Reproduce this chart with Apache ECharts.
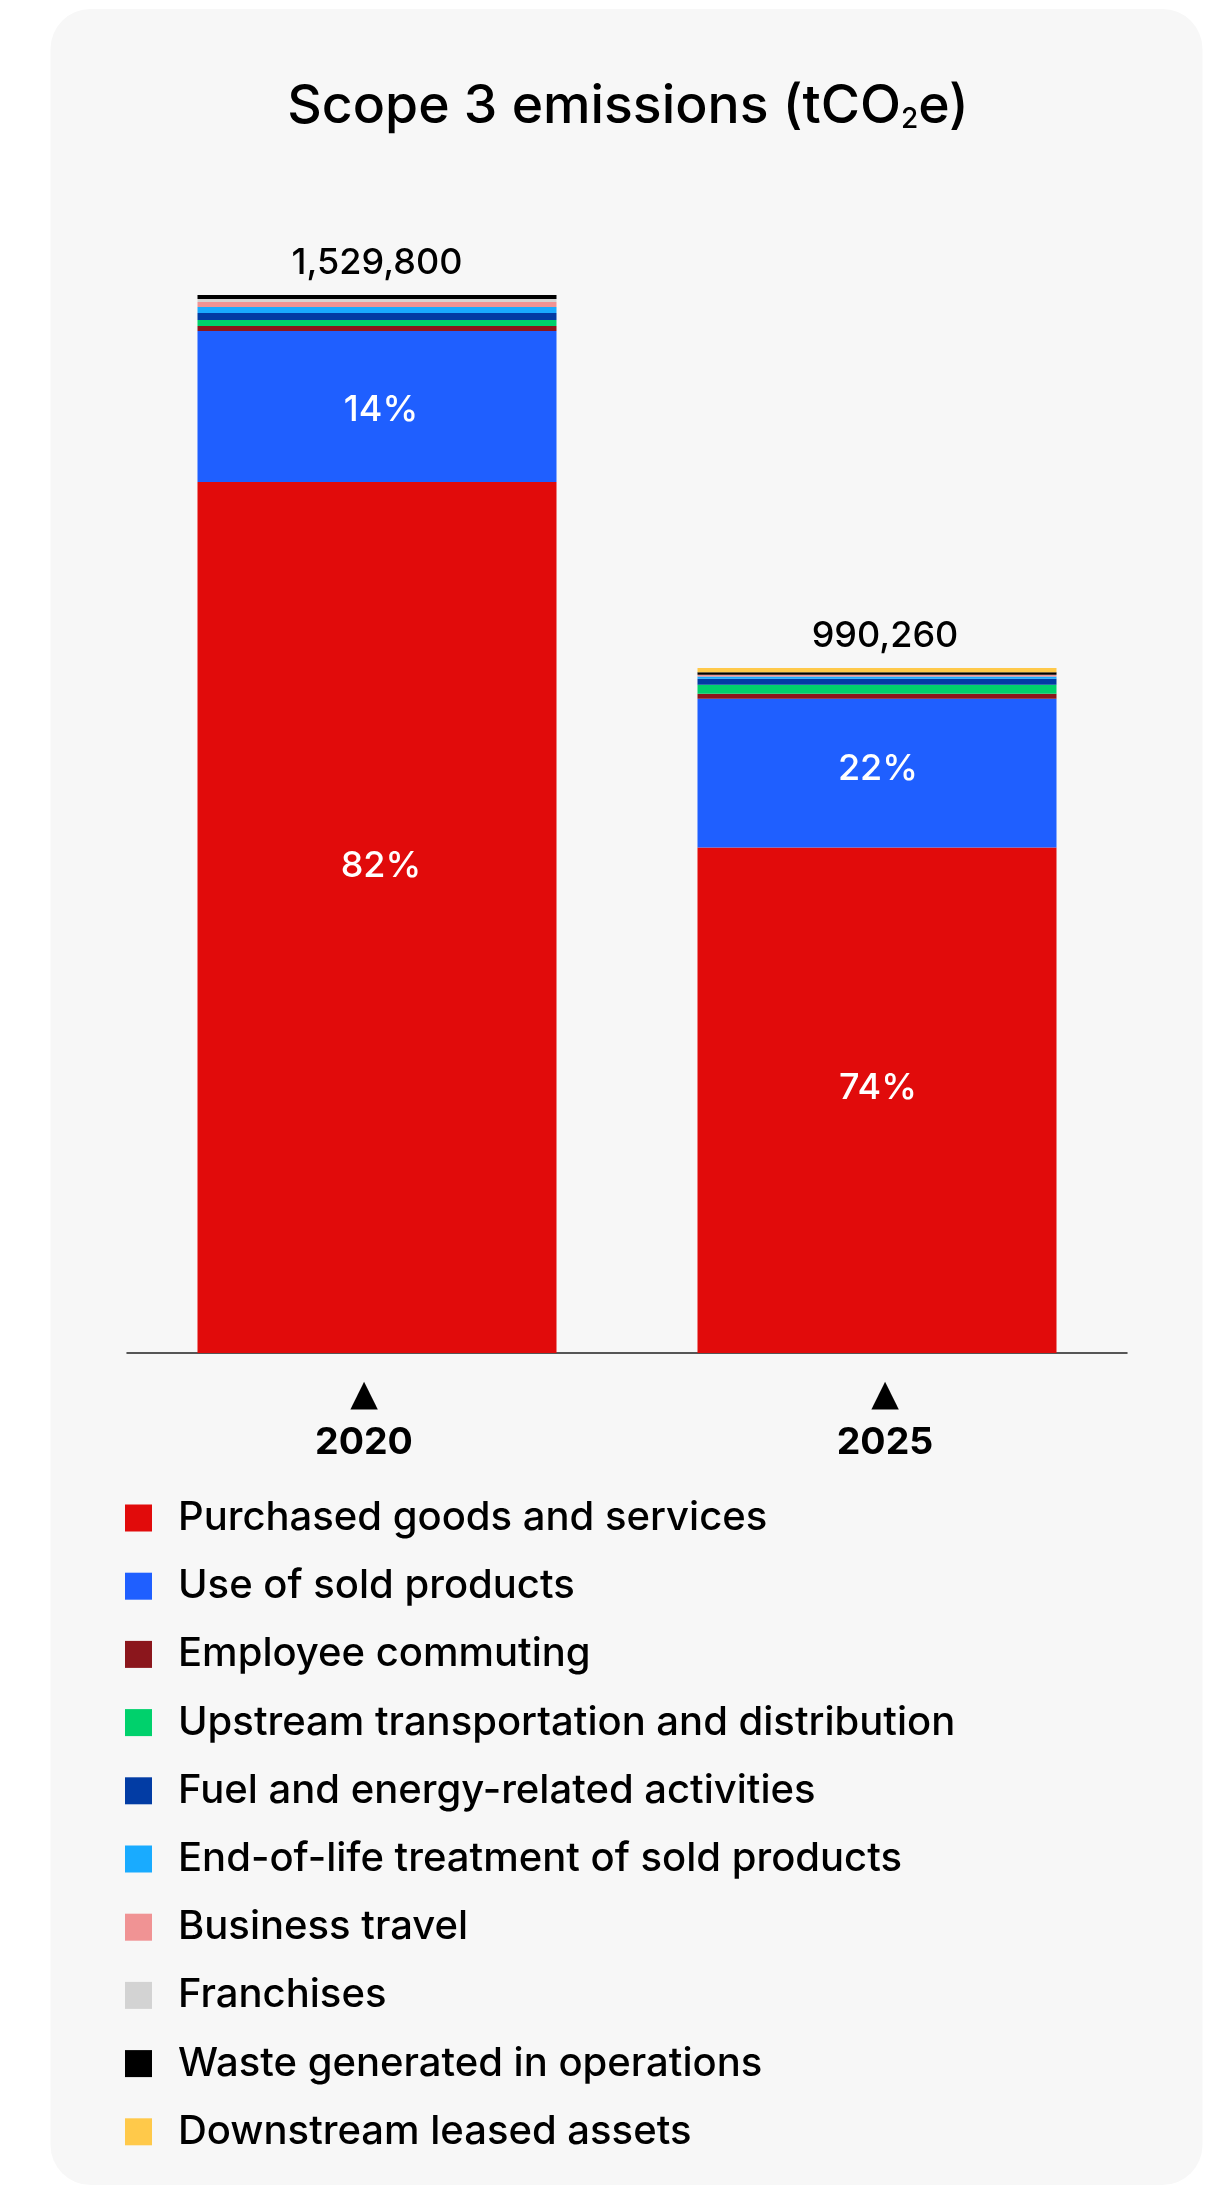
<!DOCTYPE html>
<html>
<head>
<meta charset="utf-8">
<title>Scope 3 emissions</title>
<script src="https://cdn.jsdelivr.net/npm/echarts@6/dist/echarts.min.js"></script>
<style>
  html, body { margin: 0; padding: 0; background: #ffffff; }
  #chart { width: 1208px; height: 2187px; }
</style>
</head>
<body>
<div id="chart"></div>
<script>
// Reporting years
const years = ['2020', '2025'];

// Scope 3 categories, bottom of the stack first
const categories = [
  'Purchased goods and services',
  'Use of sold products',
  'Employee commuting',
  'Upstream transportation and distribution',
  'Fuel and energy-related activities',
  'End-of-life treatment of sold products',
  'Business travel',
  'Franchises',
  'Waste generated in operations',
  'Downstream leased assets'
];

// Emissions per category (tCO2e), one value per year
const purchasedGoods   = [1259300, 731000];
const useOfSold        = [218500, 215000];
const employeeCommute  = [7200, 7180];
const upstreamTransport = [8700, 13160];
const fuelEnergy       = [10100, 8370];
const endOfLife        = [8700, 3590];
const businessTravel   = [7200, 2390];
const franchises       = [4300, 0];
const wasteGenerated   = [5800, 3590];
const downstreamLeased = [0, 5980];

const seriesValues = [
  purchasedGoods, useOfSold, employeeCommute, upstreamTransport, fuelEnergy,
  endOfLife, businessTravel, franchises, wasteGenerated, downstreamLeased
];

const palette = [
  '#e10b0b', '#1f5fff', '#8b161c', '#00d16c', '#023ca4',
  '#19abff', '#f09394', '#d3d3d3', '#000000', '#ffc94a'
];

const totals = years.map((_, i) => seriesValues.reduce((s, arr) => s + arr[i], 0));
const fmt = v => v.toLocaleString('en-US');

const FONT = 'Inter';

// Only the two largest categories carry a share label
const pctLabelOffsets = {
  0: [[4, -51], [1, -12]],
  1: [[4, 4], [1, -4]]
};
const totalLabelOffsets = [[0, 0], [8, 0]];

const barSeries = categories.map((name, si) => {
  const labelled = si in pctLabelOffsets;
  return {
    name: name,
    type: 'bar',
    stack: 'total',
    barWidth: 359,
    xAxisIndex: 0,
    yAxisIndex: 0,
    itemStyle: { color: palette[si] },
    emphasis: { disabled: true },
    data: seriesValues[si].map((v, yi) => {
      const item = { value: v };
      if (labelled) {
        item.label = {
          show: true,
          position: 'inside',
          offset: pctLabelOffsets[si][yi],
          color: '#ffffff',
          fontFamily: FONT,
          fontWeight: 500,
          fontSize: 36,
          formatter: () => Math.round(v / totals[yi] * 100) + '%'
        };
      }
      return item;
    })
  };
});

// Zero-height bar at the top of each stack carries the total
barSeries.push({
  name: 'Total',
  type: 'bar',
  stack: 'total',
  barWidth: 359,
  xAxisIndex: 0,
  yAxisIndex: 0,
  itemStyle: { color: 'transparent' },
  emphasis: { disabled: true },
  data: years.map((_, i) => ({ value: 0, label: { offset: totalLabelOffsets[i] } })),
  label: {
    show: true,
    position: 'top',
    distance: 14,
    color: '#000000',
    fontFamily: FONT,
    fontWeight: 500,
    fontSize: 36,
    formatter: p => fmt(totals[p.dataIndex])
  }
});

const chart = echarts.init(document.getElementById('chart'), null, { renderer: 'canvas' });

chart.setOption({
  animation: false,
  backgroundColor: 'transparent',
  graphic: [{
    type: 'rect',
    z: -10,
    shape: { x: 50.5, y: 9, width: 1152, height: 2176, r: 40 },
    style: { fill: '#f7f7f7' }
  }],
  title: {
    text: '{t|Scope 3 emissions (tCO}{s|2}{t|e)}',
    left: 623,
    top: 70,
    textAlign: 'center',
    textStyle: {
      rich: {
        t: { fontFamily: FONT, fontSize: 53.5, fontWeight: 500, color: '#000000', lineHeight: 64 },
        s: { fontFamily: FONT, fontSize: 28, fontWeight: 500, color: '#000000', lineHeight: 28, verticalAlign: 'bottom', padding: [0, 0, 5, 0] }
      }
    }
  },
  legend: {
    orient: 'vertical',
    left: 125,
    top: 1498,
    bottom: 0,
    padding: 0,
    icon: 'rect',
    itemWidth: 27,
    itemHeight: 27,
    itemGap: 28.2,
    selectedMode: false,
    data: categories,
    textStyle: {
      fontFamily: FONT,
      fontSize: 40,
      fontWeight: 500,
      color: '#000000',
      lineHeight: 27,
      padding: [0, 0, 0, 21]
    }
  },
  grid: [
    { left: 127, width: 1000, top: 246.4, bottom: 834, containLabel: false },
    { left: 103.5, width: 1042, top: 246.4, bottom: 834, containLabel: false }
  ],
  xAxis: [
    {
      type: 'category',
      gridIndex: 0,
      data: years,
      axisLine: { show: true, lineStyle: { color: '#222222', width: 1.5 } },
      axisTick: { show: false },
      axisLabel: { show: false }
    },
    {
      type: 'category',
      gridIndex: 1,
      data: years,
      axisLine: { show: false },
      axisTick: { show: false },
      axisLabel: {
        margin: 25,
        formatter: v => '{tri|▲}\n{yr|' + v + '}',
        rich: {
          tri: { fontFamily: 'DejaVu Sans', fontSize: 36, color: '#000000', lineHeight: 36 },
          yr: { fontFamily: FONT, fontSize: 37.5, fontWeight: 700, color: '#000000', lineHeight: 58 }
        }
      }
    }
  ],
  yAxis: [
    { type: 'value', gridIndex: 0, min: 0, max: 1600000, show: false },
    { type: 'value', gridIndex: 1, min: 0, max: 1600000, show: false }
  ],
  series: barSeries
});
</script>
</body>
</html>
